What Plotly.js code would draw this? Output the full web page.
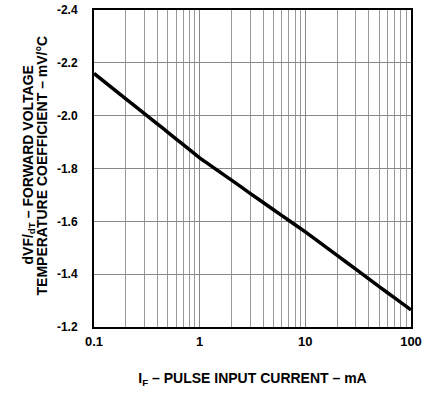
<!DOCTYPE html>
<html>
<head>
<meta charset="utf-8">
<script src="https://cdn.plot.ly/plotly-3.0.1.min.js"></script>
<style>html,body{margin:0;padding:0;background:#fff;}#chart{width:425px;height:394px;}</style>
</head>
<body>
<div id="chart"></div>
<script>
// Data
const current_mA = [0.1, 0.2, 0.3, 0.4, 0.5, 0.7, 1, 2, 3, 5, 7, 10, 20, 30, 50, 70, 100];
const tempCoeff = [-2.16, -2.064, -2.008, -1.968, -1.937, -1.89, -1.84, -1.756, -1.706, -1.644, -1.603, -1.56, -1.471, -1.419, -1.353, -1.31, -1.265];

const xMajorVals = [0.1, 1, 10, 100];
const xMajorText = ['0.1', '1', '10', '100'];
const xMinorVals = [0.2,0.3,0.4,0.5,0.6,0.7,0.8,0.9,2,3,4,5,6,7,8,9,20,30,40,50,60,70,80,90];
const yTickVals = [-2.4, -2.2, -2.0, -1.8, -1.6, -1.4, -1.2];
const yTickText = ['-2.4', '-2.2', '-2.0', '-1.8', '-1.6', '-1.4', '-1.2'];

const xTitle = '<b>I<sub>F</sub> – PULSE INPUT CURRENT – mA</b>';
const yTitleLines = ['<b>dVF/<sub>dT</sub> – FORWARD VOLTAGE</b>', '<b>TEMPERATURE COEFFICIENT – mV/°C</b>'];

const fam = 'Liberation Sans, Arial, sans-serif';
const tickFontX = {family: fam, size: 13, color: '#000', weight: 'bold'};
const tickFontY = {family: fam, size: 12, color: '#000', weight: 'bold'};
const titleFont = {family: fam, size: 14, color: '#000', weight: 'bold'};

Plotly.newPlot('chart', [{
  x: current_mA,
  y: tempCoeff,
  mode: 'lines',
  line: {color: '#000', width: 3.5, shape: 'spline', smoothing: 0.4},
  hoverinfo: 'skip'
}], {
  width: 425, height: 394,
  margin: {l: 94, r: 14, t: 10, b: 67},
  paper_bgcolor: '#fff', plot_bgcolor: '#fff',
  showlegend: false,
  font: {family: fam, color: '#000'},
  xaxis: {
    type: 'log', range: [-1, 2],
    tickmode: 'array', tickvals: xMajorVals, ticktext: xMajorText,
    ticks: '', ticklabelstandoff: 1,
    showgrid: true, gridcolor: '#888', gridwidth: 1,
    minor: {tickmode: 'array', tickvals: xMinorVals, showgrid: true, gridcolor: '#999', gridwidth: 1, ticks: ''},
    showline: true, linecolor: '#000', linewidth: 2, mirror: true,
    zeroline: false,
    tickfont: tickFontX,
    title: {text: xTitle, font: titleFont, standoff: 26}
  },
  yaxis: {
    range: [-1.2, -2.4],
    tickmode: 'array', tickvals: yTickVals, ticktext: yTickText,
    ticks: '', ticklabelstandoff: 12,
    showgrid: true, gridcolor: '#888', gridwidth: 1,
    showline: true, linecolor: '#000', linewidth: 2, mirror: true,
    zeroline: false,
    tickfont: tickFontY
  },
  annotations: [
    {text: yTitleLines[0], xref: 'paper', yref: 'paper', x: 0, y: 0.5, xanchor: 'center', yanchor: 'middle',
     xshift: -66, yshift: 3, textangle: -90, showarrow: false, font: titleFont},
    {text: yTitleLines[1], xref: 'paper', yref: 'paper', x: 0, y: 0.5, xanchor: 'center', yanchor: 'middle',
     xshift: -53, yshift: 3, textangle: -90, showarrow: false, font: titleFont}
  ]
}, {displayModeBar: false, staticPlot: true});
</script>
</body>
</html>
